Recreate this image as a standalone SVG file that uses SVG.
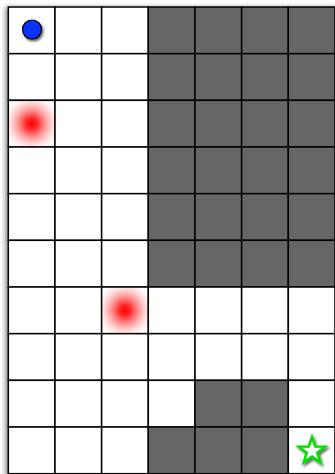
<svg xmlns="http://www.w3.org/2000/svg" width="335" height="474" viewBox="0 0 335 474">
<defs>
<style>
.cell{fill:#ffffff;stroke:#000;stroke-width:1.5}
.wall{fill:#666666;stroke:#000;stroke-width:1.5}
.hazard{fill:url(#glow)}
</style>
<radialGradient id="glow" cx="50%" cy="50%" r="62%">
<stop offset="0" stop-color="#ff0000" stop-opacity="1"/>
<stop offset="0.2" stop-color="#ff1010" stop-opacity="0.9"/>
<stop offset="0.5" stop-color="#ff4040" stop-opacity="0.55"/>
<stop offset="0.8" stop-color="#ff7070" stop-opacity="0.2"/>
<stop offset="1" stop-color="#ff9090" stop-opacity="0.02"/>
</radialGradient>
<filter id="boardShadow" x="-5%" y="-5%" width="110%" height="110%">
<feDropShadow dx="-3" dy="0" stdDeviation="2.5" flood-color="#000" flood-opacity="0.45"/>
</filter>
<filter id="objShadow" x="-50%" y="-50%" width="200%" height="200%">
<feDropShadow dx="1.5" dy="2" stdDeviation="1.2" flood-color="#000" flood-opacity="0.6"/>
</filter>
</defs>
<rect x="0" y="0" width="335" height="474" fill="#ffffff"/>
<g id="board" filter="url(#boardShadow)">
<rect x="8.3" y="7" width="340" height="470" fill="#ffffff"/>
</g>
<g id="grid">
<g id="row0">
<rect class="cell" x="8.3" y="7" width="46.67" height="46.67"/>
<rect class="cell" x="54.97" y="7" width="46.67" height="46.67"/>
<rect class="cell" x="101.63" y="7" width="46.67" height="46.67"/>
<rect class="wall" x="148.3" y="7" width="46.67" height="46.67"/>
<rect class="wall" x="194.97" y="7" width="46.67" height="46.67"/>
<rect class="wall" x="241.63" y="7" width="46.67" height="46.67"/>
<rect class="wall" x="288.3" y="7" width="46.67" height="46.67"/>
</g>
<g id="row1">
<rect class="cell" x="8.3" y="53.67" width="46.67" height="46.67"/>
<rect class="cell" x="54.97" y="53.67" width="46.67" height="46.67"/>
<rect class="cell" x="101.63" y="53.67" width="46.67" height="46.67"/>
<rect class="wall" x="148.3" y="53.67" width="46.67" height="46.67"/>
<rect class="wall" x="194.97" y="53.67" width="46.67" height="46.67"/>
<rect class="wall" x="241.63" y="53.67" width="46.67" height="46.67"/>
<rect class="wall" x="288.3" y="53.67" width="46.67" height="46.67"/>
</g>
<g id="row2">
<rect class="cell" x="8.3" y="100.33" width="46.67" height="46.67"/>
<rect class="cell" x="54.97" y="100.33" width="46.67" height="46.67"/>
<rect class="cell" x="101.63" y="100.33" width="46.67" height="46.67"/>
<rect class="wall" x="148.3" y="100.33" width="46.67" height="46.67"/>
<rect class="wall" x="194.97" y="100.33" width="46.67" height="46.67"/>
<rect class="wall" x="241.63" y="100.33" width="46.67" height="46.67"/>
<rect class="wall" x="288.3" y="100.33" width="46.67" height="46.67"/>
</g>
<g id="row3">
<rect class="cell" x="8.3" y="147" width="46.67" height="46.67"/>
<rect class="cell" x="54.97" y="147" width="46.67" height="46.67"/>
<rect class="cell" x="101.63" y="147" width="46.67" height="46.67"/>
<rect class="wall" x="148.3" y="147" width="46.67" height="46.67"/>
<rect class="wall" x="194.97" y="147" width="46.67" height="46.67"/>
<rect class="wall" x="241.63" y="147" width="46.67" height="46.67"/>
<rect class="wall" x="288.3" y="147" width="46.67" height="46.67"/>
</g>
<g id="row4">
<rect class="cell" x="8.3" y="193.67" width="46.67" height="46.67"/>
<rect class="cell" x="54.97" y="193.67" width="46.67" height="46.67"/>
<rect class="cell" x="101.63" y="193.67" width="46.67" height="46.67"/>
<rect class="wall" x="148.3" y="193.67" width="46.67" height="46.67"/>
<rect class="wall" x="194.97" y="193.67" width="46.67" height="46.67"/>
<rect class="wall" x="241.63" y="193.67" width="46.67" height="46.67"/>
<rect class="wall" x="288.3" y="193.67" width="46.67" height="46.67"/>
</g>
<g id="row5">
<rect class="cell" x="8.3" y="240.33" width="46.67" height="46.67"/>
<rect class="cell" x="54.97" y="240.33" width="46.67" height="46.67"/>
<rect class="cell" x="101.63" y="240.33" width="46.67" height="46.67"/>
<rect class="wall" x="148.3" y="240.33" width="46.67" height="46.67"/>
<rect class="wall" x="194.97" y="240.33" width="46.67" height="46.67"/>
<rect class="wall" x="241.63" y="240.33" width="46.67" height="46.67"/>
<rect class="wall" x="288.3" y="240.33" width="46.67" height="46.67"/>
</g>
<g id="row6">
<rect class="cell" x="8.3" y="287" width="46.67" height="46.67"/>
<rect class="cell" x="54.97" y="287" width="46.67" height="46.67"/>
<rect class="cell" x="101.63" y="287" width="46.67" height="46.67"/>
<rect class="cell" x="148.3" y="287" width="46.67" height="46.67"/>
<rect class="cell" x="194.97" y="287" width="46.67" height="46.67"/>
<rect class="cell" x="241.63" y="287" width="46.67" height="46.67"/>
<rect class="cell" x="288.3" y="287" width="46.67" height="46.67"/>
</g>
<g id="row7">
<rect class="cell" x="8.3" y="333.67" width="46.67" height="46.67"/>
<rect class="cell" x="54.97" y="333.67" width="46.67" height="46.67"/>
<rect class="cell" x="101.63" y="333.67" width="46.67" height="46.67"/>
<rect class="cell" x="148.3" y="333.67" width="46.67" height="46.67"/>
<rect class="cell" x="194.97" y="333.67" width="46.67" height="46.67"/>
<rect class="cell" x="241.63" y="333.67" width="46.67" height="46.67"/>
<rect class="cell" x="288.3" y="333.67" width="46.67" height="46.67"/>
</g>
<g id="row8">
<rect class="cell" x="8.3" y="380.33" width="46.67" height="46.67"/>
<rect class="cell" x="54.97" y="380.33" width="46.67" height="46.67"/>
<rect class="cell" x="101.63" y="380.33" width="46.67" height="46.67"/>
<rect class="cell" x="148.3" y="380.33" width="46.67" height="46.67"/>
<rect class="wall" x="194.97" y="380.33" width="46.67" height="46.67"/>
<rect class="wall" x="241.63" y="380.33" width="46.67" height="46.67"/>
<rect class="cell" x="288.3" y="380.33" width="46.67" height="46.67"/>
</g>
<g id="row9">
<rect class="cell" x="8.3" y="427" width="46.67" height="46.67"/>
<rect class="cell" x="54.97" y="427" width="46.67" height="46.67"/>
<rect class="cell" x="101.63" y="427" width="46.67" height="46.67"/>
<rect class="wall" x="148.3" y="427" width="46.67" height="46.67"/>
<rect class="wall" x="194.97" y="427" width="46.67" height="46.67"/>
<rect class="wall" x="241.63" y="427" width="46.67" height="46.67"/>
<rect class="cell" x="288.3" y="427" width="46.67" height="46.67"/>
</g>
</g>
<g id="hazard1">
<rect class="hazard" x="9.2" y="101.2" width="44.9" height="44.9"/>
</g>
<g id="hazard2">
<rect class="hazard" x="102.5" y="287.9" width="44.9" height="44.9"/>
</g>
<g id="agent" filter="url(#objShadow)">
<circle cx="32" cy="29.5" r="9.5" fill="#1030ff" stroke="#000" stroke-width="1.2"/>
</g>
<g id="goal" filter="url(#objShadow)">
<polygon points="312,437 315.3,446.5 325.3,446.7 317.3,452.7 320.2,462.3 312,456.6 303.8,462.3 306.7,452.7 298.7,446.7 308.7,446.5" fill="#ffffff" stroke="#00e000" stroke-width="2.5" stroke-linejoin="miter"/>
</g>
</svg>
